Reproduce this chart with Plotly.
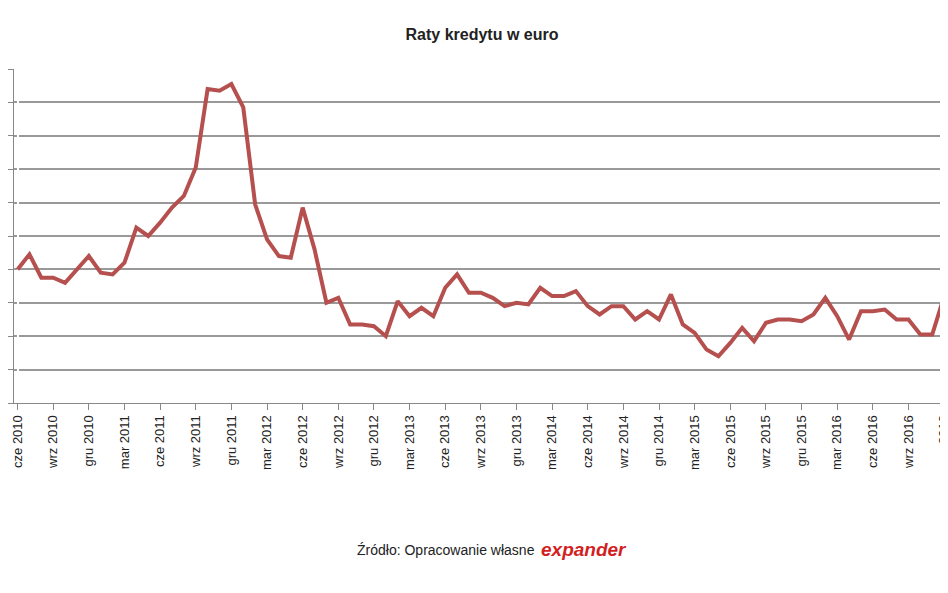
import plotly.graph_objects as go

months_pl = ["sty", "lut", "mar", "kwi", "maj", "cze", "lip", "sie", "wrz", "paź", "lis", "gru"]

# raty (jednostki siatki)
values = [4.0, 4.45, 3.75, 3.75, 3.6, 4.0, 4.4, 3.9, 3.85, 4.2, 5.25, 5.0,
          5.4, 5.85, 6.2, 7.05, 9.4, 9.35, 9.55, 8.85, 5.95, 4.9, 4.4, 4.35,
          5.85, 4.6, 3.0, 3.15, 2.35, 2.35, 2.3, 2.0, 3.05, 2.6, 2.85, 2.6,
          3.45, 3.85, 3.3, 3.3, 3.15, 2.9, 3.0, 2.95, 3.45, 3.2, 3.2, 3.35,
          2.9, 2.65, 2.9, 2.9, 2.5, 2.75, 2.5, 3.25, 2.35, 2.1, 1.6, 1.4,
          1.8, 2.25, 1.85, 2.4, 2.5, 2.5, 2.45, 2.65, 3.15, 2.6, 1.9, 2.75,
          2.75, 2.8, 2.5, 2.5, 2.05, 2.05, 3.2, 2.65]

labels = []
m, y = 5, 2010  # cze 2010
for _ in values:
    labels.append(f"{months_pl[m]} {y}")
    m += 1
    if m == 12:
        m, y = 0, y + 1

x = list(range(len(values)))
tickvals = x[::3]
ticktext = labels[::3]

fig = go.Figure()
fig.add_trace(go.Scatter(x=x, y=values, mode="lines",
                         line=dict(color="#b5504e", width=4)))

fig.update_layout(
    width=948, height=593,
    margin=dict(l=6, r=0, t=61, b=198, autoexpand=False),
    paper_bgcolor="white", plot_bgcolor="white",
    showlegend=False,
    font=dict(family="Liberation Sans, Arial", color="#222"),
    title=dict(text="<b>Raty kredytu w euro</b>", x=0.5, y=0.965,
               xanchor="center", font=dict(size=16, color="#222")),
)
fig.update_xaxes(range=[-0.3, len(values) - 1], tickvals=tickvals, ticktext=ticktext,
                 tickangle=-90, ticks="outside", ticklen=6, tickcolor="#888",
                 showline=True, linecolor="#888", showgrid=False,
                 tickfont=dict(size=13, color="#222"))
fig.update_yaxes(range=[0, 10], dtick=1, showticklabels=False, ticks="outside",
                 ticklen=5, tickcolor="#888",
                 showgrid=True, gridcolor="#999", gridwidth=1.5,
                 showline=True, linecolor="#888", zeroline=False)

fig.add_annotation(text="Źródło: Opracowanie własne", xref="paper", yref="paper",
                   x=0.555, y=-0.44, xanchor="right", yanchor="middle", showarrow=False,
                   font=dict(size=14, color="#222"))
fig.add_annotation(text="<b><i>expander</i></b>", xref="paper", yref="paper",
                   x=0.557, y=-0.44, xanchor="left", yanchor="middle", showarrow=False,
                   font=dict(size=19, color="#d21f1f"))

fig.write_html("out.html")
